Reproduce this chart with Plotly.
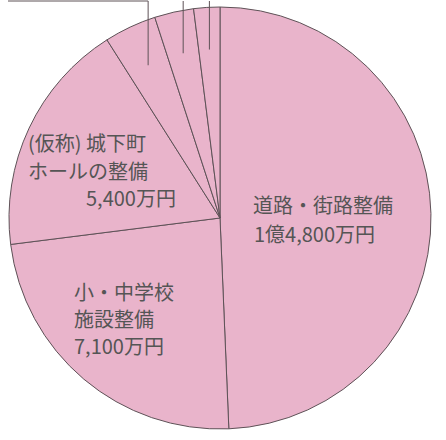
import math
import plotly.graph_objects as go

# data (万円)
categories = ["道路・街路整備", "小・中学校施設整備", "(仮称)城下町ホールの整備", "その他A", "その他B", "その他C"]
values = [14800, 7100, 5400, 1200, 900, 600]
label_lines = [
    ["道路・街路整備", "1億4,800万円"],
    ["小・中学校", "施設整備", "7,100万円"],
    ["(仮称) 城下町", "ホールの整備", "5,400万円"],
]

W, H = 446, 440
CX, CY, R = 220, 218, 211
PINK = "#E9B4CB"
LINE = "#5e5257"
TXT = "#555555"
FONT = "Noto Sans CJK JP"

fig = go.Figure(go.Pie(
    labels=categories, values=values, sort=False, direction="clockwise", rotation=0,
    marker=dict(colors=[PINK] * len(values), line=dict(color=LINE, width=1)),
    textinfo="none", hoverinfo="label+value", showlegend=False,
    domain=dict(x=[(CX - R) / W, (CX + R) / W], y=[(H - CY - R) / H, (H - CY + R) / H]),
))

def px(x):
    return x / W

def py(y):
    return 1 - y / H

# label placements (pixel positions of each text line: x, y-center, anchor)
placements = [
    [(252, 204, "left"), (253, 233, "left")],
    [(73, 291, "left"), (73, 318, "left"), (73, 345, "left")],
    [(27, 143, "left"), (27, 170, "left"), (177, 198, "right")],
]
anns = []
for lines, pos in zip(label_lines, placements):
    for t, (x, y, anc) in zip(lines, pos):
        anns.append(dict(x=px(x), y=py(y), xref="paper", yref="paper", text=t, showarrow=False,
                         xanchor=anc, yanchor="middle", borderpad=0,
                         font=dict(family=FONT, size=20, color=TXT)))

# leader lines for the small slices (labels lie outside the visible frame)
total = sum(values)
cum = 0
shapes = []
for i, v in enumerate(values):
    mid = (cum + v / 2) / total * 2 * math.pi
    cum += v
    if i < 3:
        continue
    x0 = CX + 0.8 * R * math.sin(mid)
    y0 = CY - 0.8 * R * math.cos(mid)
    shapes.append(dict(type="line", xref="paper", yref="paper", x0=px(x0), y0=py(y0), x1=px(x0), y1=py(1),
                       line=dict(color=LINE, width=1)))
    if i == 3:
        shapes.append(dict(type="line", xref="paper", yref="paper", x0=px(x0), y0=py(1), x1=px(8), y1=py(1),
                           line=dict(color=LINE, width=1)))

fig.update_layout(width=W, height=H, margin=dict(l=0, r=0, t=0, b=0),
                  paper_bgcolor="white", plot_bgcolor="white",
                  annotations=anns, shapes=shapes)
fig.write_html("out.html")
